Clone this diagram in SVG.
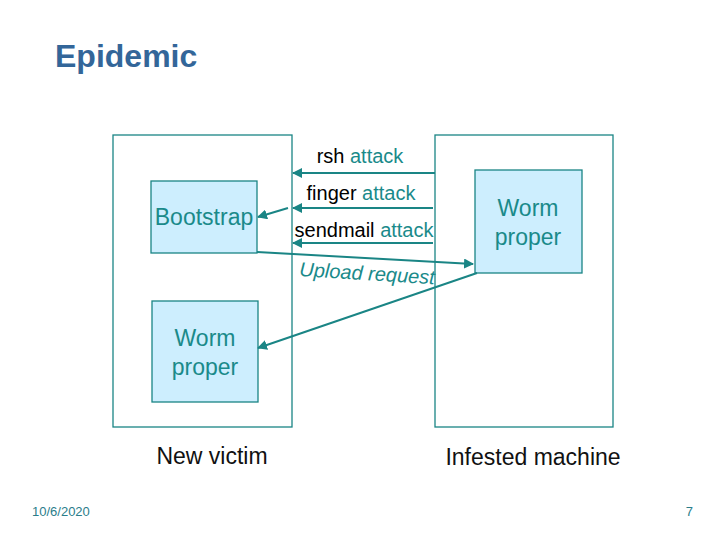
<svg xmlns="http://www.w3.org/2000/svg" width="720" height="540" viewBox="0 0 720 540">
<style>
text{font-family:"Liberation Sans",Arial,sans-serif}
.outer{fill:#fff;stroke:#1a8585;stroke-width:1.3}
.inner{fill:#cdeefe;stroke:#1a8585;stroke-width:1.3}
.teal{fill:#1a8a8a}
.blk{fill:#000}
.ln{stroke:#1a8585;stroke-width:2;fill:none;marker-end:url(#ah)}
</style>
<defs>
<marker id="ah" viewBox="0 0 10 10" refX="9" refY="5" markerWidth="5" markerHeight="5" orient="auto" markerUnits="strokeWidth">
<path d="M0,0 L10,5 L0,10 z" fill="#1a8585"/>
</marker>
</defs>
<rect width="720" height="540" fill="#fff"/>
<text x="55" y="67" font-size="32" font-weight="bold" fill="#336699">Epidemic</text>

<g id="new-victim">
<rect class="outer" x="113" y="135" width="179" height="292"/>
<text x="212" y="464" font-size="23" text-anchor="middle" fill="#111">New victim</text>
</g>
<g id="infested-machine">
<rect class="outer" x="435" y="135" width="178" height="292"/>
<text x="533" y="465" font-size="23" text-anchor="middle" fill="#111">Infested machine</text>
</g>
<g id="bootstrap">
<rect class="inner" x="151" y="181" width="106" height="72"/>
<text x="204" y="225" font-size="23" text-anchor="middle" class="teal">Bootstrap</text>
</g>
<g id="worm-proper-infested">
<rect class="inner" x="475" y="170" width="107" height="103"/>
<text x="528" y="216" font-size="23" text-anchor="middle" class="teal">Worm</text>
<text x="528" y="245" font-size="23" text-anchor="middle" class="teal">proper</text>
</g>
<g id="worm-proper-victim">
<rect class="inner" x="152" y="301" width="106" height="101"/>
<text x="205" y="346" font-size="23" text-anchor="middle" class="teal">Worm</text>
<text x="205" y="375" font-size="23" text-anchor="middle" class="teal">proper</text>
</g>

<g id="connectors">
<line class="ln" x1="435" y1="173" x2="293" y2="173"/>
<line class="ln" x1="433" y1="208" x2="293" y2="208"/>
<line class="ln" x1="433" y1="243" x2="293" y2="243"/>
<line class="ln" x1="288" y1="208" x2="258" y2="217"/>
<line class="ln" x1="257" y1="252" x2="473" y2="264"/>
<line class="ln" x1="477" y1="273" x2="258" y2="348"/>
</g>

<g id="labels" font-size="20">
<text x="360" y="163" text-anchor="middle"><tspan class="blk">rsh </tspan><tspan class="teal">attack</tspan></text>
<text x="361" y="200" text-anchor="middle"><tspan class="blk">finger </tspan><tspan class="teal">attack</tspan></text>
<text x="364" y="237" text-anchor="middle"><tspan class="blk">sendmail </tspan><tspan class="teal">attack</tspan></text>
<text x="299" y="276" font-style="italic" class="teal" transform="rotate(3.5 299 276)">Upload request</text>
</g>

<text x="32" y="516" font-size="13" fill="#2a7d8a">10/6/2020</text>
<text x="693" y="516" font-size="13" fill="#2a7d8a" text-anchor="end">7</text>
</svg>
